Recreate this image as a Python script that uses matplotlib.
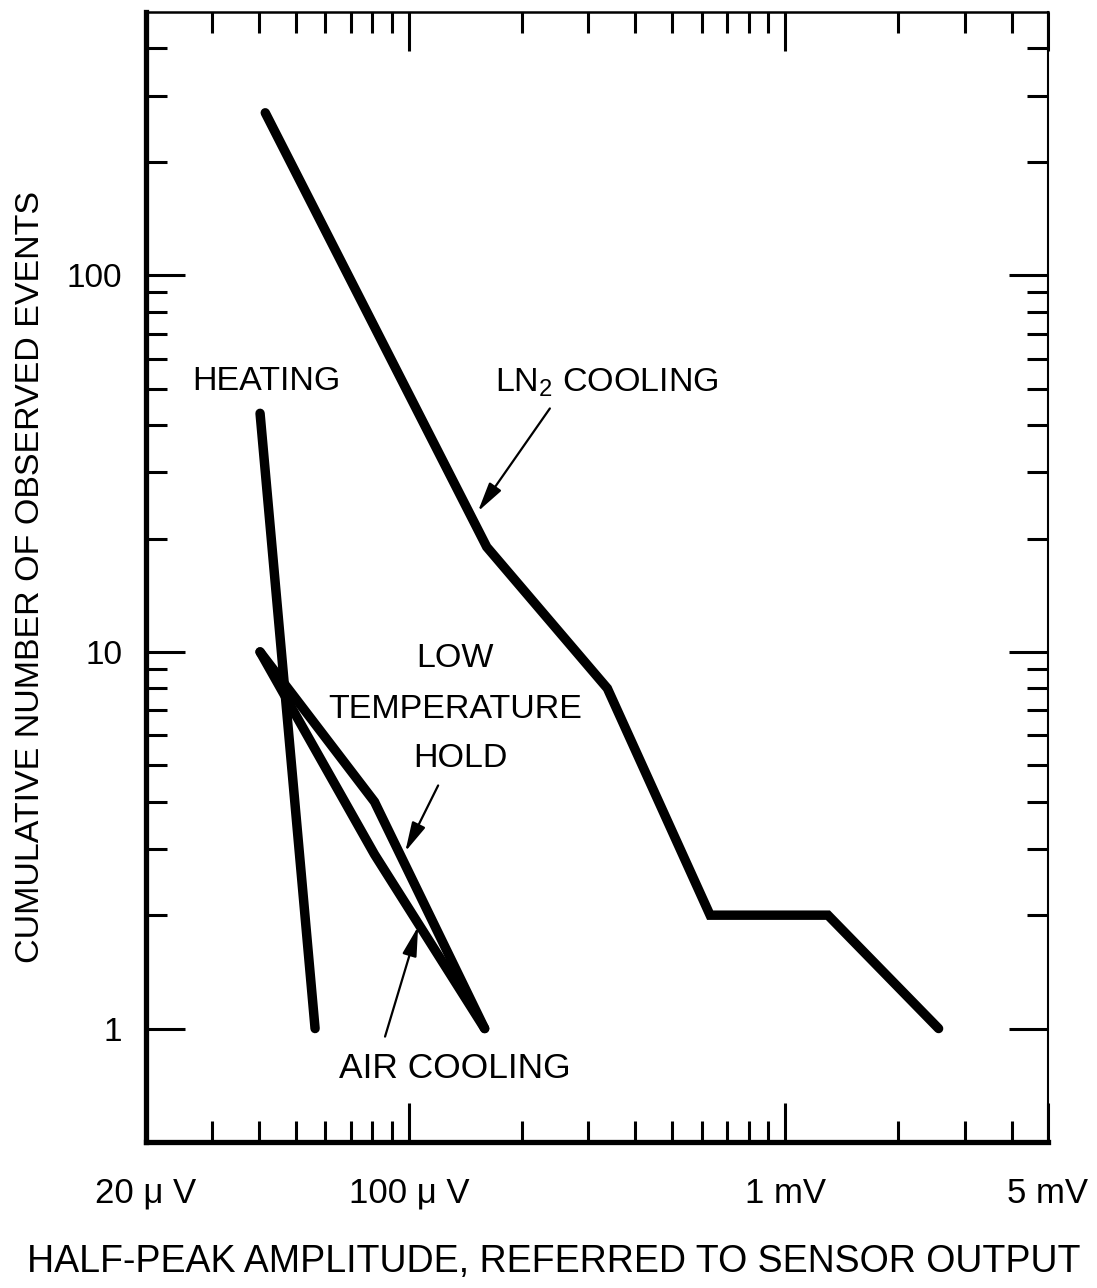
import matplotlib
matplotlib.use('Agg')
import matplotlib.pyplot as plt
from matplotlib.ticker import FixedLocator, NullFormatter

plt.rcParams['font.family'] = ['Liberation Sans', 'DejaVu Sans']
plt.rcParams['mathtext.fontset'] = 'custom'
plt.rcParams['mathtext.rm'] = 'Liberation Sans'

# Half-peak amplitude in volts, cumulative event counts
ln2_amp = [41.5e-6, 161e-6, 337e-6, 632e-6, 1.30e-3, 2.56e-3]
ln2_events = [270, 19, 8, 2, 2, 1]

heat_amp = [40.2e-6, 56.3e-6]
heat_events = [43, 1]

hold_amp = [40.2e-6, 81e-6, 159e-6]
hold_events = [10, 4, 1]

air_amp = [40.2e-6, 81e-6, 159e-6]
air_events = [10, 2.9, 1]

x_ticks = [20e-6, 100e-6, 1e-3, 5e-3]
x_labels = ['20 μ V', '100 μ V', '1 mV', '5 mV']
y_ticks = [1, 10, 100]
y_labels = ['1', '10', '100']

x_minor = [30e-6, 40e-6, 50e-6, 60e-6, 70e-6, 80e-6, 90e-6,
           200e-6, 300e-6, 400e-6, 500e-6, 600e-6, 700e-6, 800e-6, 900e-6,
           2e-3, 3e-3, 4e-3]
y_minor = [2, 3, 4, 5, 6, 7, 8, 9, 20, 30, 40, 50, 60, 70, 80, 90,
           200, 300, 400]

fig = plt.figure(figsize=(10.97, 12.88), dpi=100)
ax = fig.add_axes([0.1331, 0.1134, 0.8222, 0.8773])

ax.set_xscale('log')
ax.set_yscale('log')
ax.set_xlim(20e-6, 5e-3)
ax.set_ylim(0.5, 500)

lw = 6.8
for xs, ys in [(ln2_amp, ln2_events), (heat_amp, heat_events),
               (hold_amp, hold_events), (air_amp, air_events)]:
    ax.plot(xs, ys, '-', color='black', linewidth=lw,
            solid_capstyle='round', solid_joinstyle='miter')

# Axis frame: heavy left and bottom, light top and right
ax.spines['left'].set_linewidth(3.8)
ax.spines['bottom'].set_linewidth(3.8)
ax.spines['top'].set_linewidth(1.8)
ax.spines['right'].set_linewidth(1.5)

ax.xaxis.set_major_locator(FixedLocator(x_ticks))
ax.xaxis.set_minor_locator(FixedLocator(x_minor))
ax.yaxis.set_major_locator(FixedLocator(y_ticks))
ax.yaxis.set_minor_locator(FixedLocator(y_minor))
ax.set_xticklabels(x_labels)
ax.set_yticklabels(y_labels)
ax.xaxis.set_minor_formatter(NullFormatter())
ax.yaxis.set_minor_formatter(NullFormatter())

ax.tick_params(which='both', direction='in', top=True, right=True,
               width=2.2, color='black')
ax.tick_params(which='major', length=28)
ax.tick_params(which='minor', length=15)
ax.tick_params(axis='x', which='major', pad=25, labelsize=25)
ax.tick_params(axis='y', which='major', pad=17, labelsize=24)

ax.set_xlabel('HALF-PEAK AMPLITUDE, REFERRED TO SENSOR OUTPUT',
              fontsize=27, va='center')
ax.xaxis.set_label_coords(0.452, -0.106)
ax.set_ylabel('CUMULATIVE NUMBER OF OBSERVED EVENTS',
              fontsize=24.5, va='center')
ax.yaxis.set_label_coords(-0.1286, 0.5)

# Curve labels and pointers
txt = dict(fontsize=24.5, ha='center', va='center')
ax.text(41.7e-6, 52.3, 'HEATING', **txt)
ax.text(336e-6, 49.2, r'LN$_{\mathrm{2}}$ COOLING', fontsize=24.5,
        ha='center', va='baseline')
ax.text(132.6e-6, 9.6, 'LOW', **txt)
ax.text(132.6e-6, 7.03, 'TEMPERATURE', **txt)
ax.text(136.8e-6, 5.2, 'HOLD', **txt)
ax.text(132.6e-6, 0.783, 'AIR COOLING', fontsize=25.5, ha='center',
        va='center')

arrow = dict(arrowstyle='-|>,head_length=0.9,head_width=0.22',
             mutation_scale=20, color='black', lw=1.6,
             shrinkA=0, shrinkB=0)
ax.annotate('', xy=(152.6e-6, 23.6), xytext=(237e-6, 44.3), arrowprops=arrow)
ax.annotate('', xy=(97.8e-6, 2.95), xytext=(119.6e-6, 4.42), arrowprops=arrow)
ax.annotate('', xy=(105.8e-6, 1.866), xytext=(86.4e-6, 0.952),
            arrowprops=arrow)

fig.savefig('out.png', dpi=100)
